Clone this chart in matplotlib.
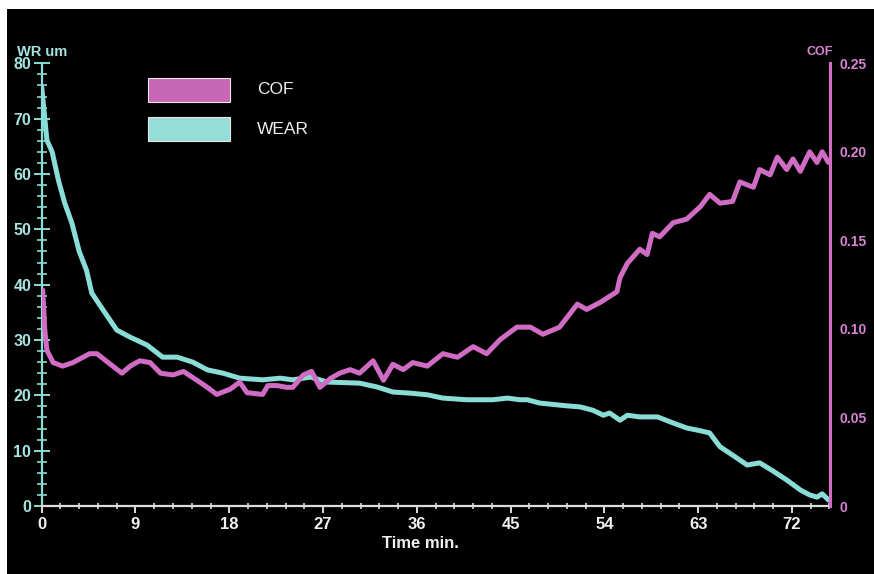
import matplotlib
matplotlib.use("Agg")
import matplotlib.pyplot as plt
from matplotlib.patches import Rectangle
from matplotlib.ticker import MultipleLocator

# ---- data ----
wear_time = [0.0, 0.5, 1.0, 1.6, 2.2, 2.9, 3.6, 4.3, 4.8, 5.9, 7.2, 8.5, 10.1, 11.6, 13.0,
             14.5, 15.9, 17.4, 19.0, 21.2, 22.9, 24.1, 25.8, 27.4, 30.5, 32.2, 33.7, 35.3,
             37.0, 38.5, 40.8, 43.3, 44.7, 45.9, 46.6, 47.8, 50.4, 51.7, 52.9, 53.9, 54.5,
             55.5, 56.2, 57.4, 59.1, 60.6, 61.9, 63.2, 64.1, 65.1, 66.3, 67.7, 68.9, 70.2,
             71.5, 72.8, 73.7, 74.4, 74.9, 75.5]
wear_um = [75.7, 66.1, 64.0, 58.9, 54.8, 51.1, 46.0, 42.6, 38.5, 35.4, 31.8, 30.5, 29.1, 26.9,
           26.9, 26.0, 24.6, 24.0, 23.1, 22.8, 23.1, 22.8, 23.3, 22.4, 22.2, 21.5, 20.6, 20.4,
           20.1, 19.5, 19.2, 19.2, 19.5, 19.2, 19.2, 18.6, 18.1, 17.9, 17.3, 16.4, 16.8, 15.5,
           16.4, 16.1, 16.1, 15.0, 14.1, 13.6, 13.2, 10.7, 9.2, 7.4, 7.8, 6.3, 4.7, 2.9, 2.0,
           1.6, 2.2, 1.1]

cof_time = [0.1, 0.3, 0.5, 1.1, 2.0, 3.0, 4.6, 5.3, 6.6, 7.7, 8.5, 9.4, 10.4, 11.4, 12.6,
            13.6, 14.9, 15.9, 16.8, 18.1, 19.0, 19.7, 21.2, 21.7, 22.6, 23.5, 24.1, 25.1,
            25.9, 26.7, 27.7, 28.6, 29.6, 30.5, 31.8, 32.8, 33.7, 34.7, 35.6, 37.0, 38.5,
            39.9, 41.4, 42.7, 44.0, 45.6, 46.9, 48.1, 49.7, 51.4, 52.3, 53.6, 55.2, 55.5,
            56.2, 57.4, 58.1, 58.6, 59.3, 60.6, 61.9, 63.2, 64.1, 65.1, 66.3, 67.0, 68.3,
            68.9, 69.9, 70.6, 71.5, 72.1, 72.8, 73.7, 74.4, 74.9, 75.5]
cof = [0.122, 0.099, 0.088, 0.081, 0.079, 0.081, 0.086, 0.086, 0.080, 0.075, 0.079, 0.082,
       0.081, 0.075, 0.074, 0.076, 0.071, 0.067, 0.063, 0.066, 0.070, 0.064, 0.063, 0.068,
       0.068, 0.067, 0.067, 0.074, 0.076, 0.067, 0.072, 0.075, 0.077, 0.075, 0.082, 0.071,
       0.080, 0.077, 0.081, 0.079, 0.086, 0.084, 0.090, 0.086, 0.094, 0.101, 0.101, 0.097,
       0.101, 0.114, 0.111, 0.115, 0.121, 0.129, 0.137, 0.145, 0.142, 0.154, 0.152, 0.160,
       0.162, 0.169, 0.176, 0.171, 0.172, 0.183, 0.180, 0.190, 0.187, 0.197, 0.190, 0.196,
       0.189, 0.200, 0.194, 0.200, 0.194]

x_ticks = [0, 9, 18, 27, 36, 45, 54, 63, 72]
wear_ticks = [0, 10, 20, 30, 40, 50, 60, 70, 80]
cof_ticks = [0, 0.05, 0.10, 0.15, 0.20, 0.25]
cof_tick_labels = ["0", "0.05", "0.10", "0.15", "0.20", "0.25"]

# ---- styling ----
CYAN = "#8adcd6"
CYAN_TXT = "#a6e4e0"
MAG = "#d06cc4"
MAG_TXT = "#d884d4"
WHITE = "#f0f0f0"
NARROW = ["Liberation Sans", "DejaVu Sans"]
SANS = ["Liberation Sans", "DejaVu Sans"]

W, H = 874, 574
fig = plt.figure(figsize=(W / 100, H / 100), dpi=100)
fig.patch.set_facecolor("white")
fig.patches.append(Rectangle((7 / W, 0), 1 - 7 / W, 1 - 9 / H, transform=fig.transFigure,
                             facecolor="black", edgecolor="none", zorder=-10))

ax = fig.add_axes([41.7 / W, (H - 506) / H, (830 - 41.7) / W, (506 - 63.3) / H])
ax.set_facecolor("none")
ax2 = ax.twinx()
ax2.set_facecolor("none")

ax.plot(wear_time, wear_um, color=CYAN, lw=3.6, solid_joinstyle="round",
        solid_capstyle="round", zorder=3)
ax2.plot(cof_time, cof, color=MAG, lw=3.6, solid_joinstyle="round",
         solid_capstyle="round", zorder=3)

ax.set_xlim(0, 75.65)
ax.set_ylim(0, 80)
ax2.set_ylim(0, 0.25)

for a in (ax, ax2):
    for s in a.spines.values():
        s.set_visible(False)
ax.spines["left"].set_visible(True)
ax.spines["left"].set_color(CYAN)
ax.spines["left"].set_linewidth(1.6)
ax.spines["bottom"].set_visible(True)
ax.spines["bottom"].set_color("#dcdcdc")
ax.spines["bottom"].set_linewidth(1.6)
ax2.spines["right"].set_visible(True)
ax2.spines["right"].set_color(MAG)
ax2.spines["right"].set_linewidth(2.2)

ax.set_xticks(x_ticks)
ax.set_xticklabels([str(t) for t in x_ticks])
ax.xaxis.set_minor_locator(MultipleLocator(1.8))
ax.set_yticks(wear_ticks)
ax.set_yticklabels([str(t) for t in wear_ticks])
ax.yaxis.set_minor_locator(MultipleLocator(2))

ax.tick_params(axis="x", which="major", direction="out", length=5, width=1.4,
               color="#dcdcdc", labelcolor=WHITE, pad=3)
ax.tick_params(axis="x", which="minor", direction="inout", length=5, width=1.2,
               color="#dcdcdc")
ax.tick_params(axis="y", which="major", direction="inout", length=11, width=1.4,
               color=CYAN, labelcolor=CYAN_TXT, pad=2)
ax.tick_params(axis="y", which="minor", direction="inout", length=7, width=1.2,
               color=CYAN)
for lab in ax.get_xticklabels():
    lab.set_family(NARROW)
    lab.set_fontsize(12)
    lab.set_fontweight("bold")
for lab in ax.get_yticklabels():
    lab.set_family(NARROW)
    lab.set_fontsize(11.5)
    lab.set_fontweight("bold")

ax2.set_yticks(cof_ticks)
ax2.set_yticklabels(cof_tick_labels)
ax2.tick_params(axis="y", which="major", length=0, labelcolor=MAG_TXT, pad=7)
for lab in ax2.get_yticklabels():
    lab.set_family(NARROW)
    lab.set_fontsize(10)
    lab.set_fontweight("bold")

# axis titles
fig.text(17 / W, 1 - 52 / H, "WR um", color=CYAN_TXT, fontsize=10.5, fontweight="bold",
         family=NARROW, ha="left", va="center")
fig.text(820 / W, 1 - 52 / H, "COF", color=MAG_TXT, fontsize=9, fontweight="bold",
         family=NARROW, ha="center", va="center")
fig.text(420 / W, 1 - 543 / H, "Time min.", color=WHITE, fontsize=12, fontweight="bold",
         family=SANS, ha="center", va="center")

# legend
for (ytop, col, label) in [(78, "#c866b6", "COF"), (117, "#96dcd8", "WEAR")]:
    fig.patches.append(Rectangle((148 / W, 1 - (ytop + 24) / H), 82 / W, 24 / H,
                                 transform=fig.transFigure, facecolor=col,
                                 edgecolor="#e8e8e8", linewidth=0.8, zorder=5))
    fig.text(257 / W, 1 - (ytop + 12) / H, label, color=WHITE, fontsize=12.5,
             family=SANS, ha="left", va="center", zorder=6)

fig.savefig("out.png", dpi=100, facecolor=fig.get_facecolor())
